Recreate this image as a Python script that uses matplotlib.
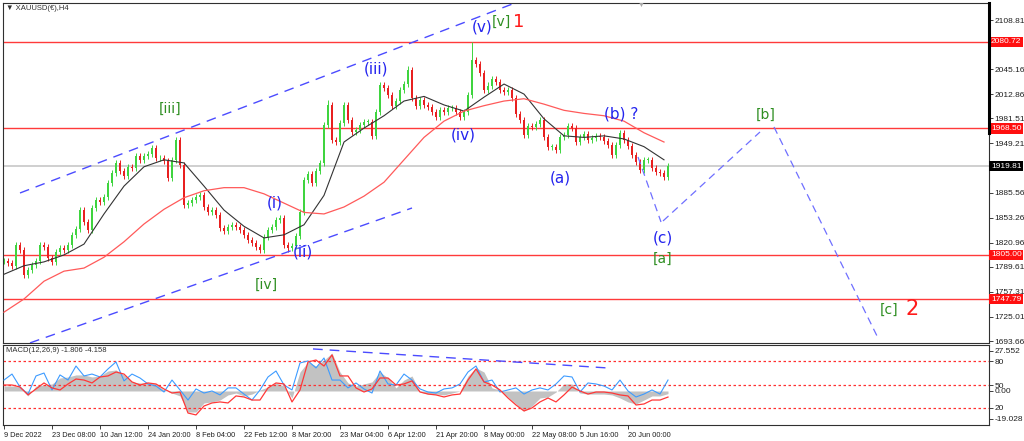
import numpy as np
import matplotlib
matplotlib.use("Agg")
import matplotlib.pyplot as plt
import matplotlib.transforms as mtransforms

plt.rcParams["font.family"] = ["Liberation Sans", "DejaVu Sans"]

# ---- price data (H4 bars) ----
closes = [1797, 1795, 1791, 1818, 1811, 1779, 1786, 1792, 1797, 1818,
          1815, 1801, 1796, 1809, 1814, 1811, 1818, 1831, 1839, 1863,
          1848, 1837, 1866, 1876, 1874, 1880, 1898, 1911, 1924, 1914,
          1907, 1919, 1917, 1933, 1928, 1933, 1935, 1943, 1930, 1930,
          1926, 1904, 1928, 1954, 1921, 1870, 1872, 1876, 1880, 1883,
          1867, 1861, 1863, 1857, 1840, 1836, 1841, 1844, 1841, 1837,
          1831, 1824, 1820, 1815, 1811, 1828, 1837, 1841, 1850, 1853,
          1818, 1814, 1817, 1829, 1861, 1902, 1910, 1898, 1914, 1924,
          1973, 1999, 1954, 1951, 1976, 1999, 1980, 1964, 1967, 1973,
          1977, 1977, 1959, 1990, 2025, 2021, 2012, 1998, 2004, 2018,
          2026, 2044, 2008, 1998, 2005, 1999, 1996, 1990, 1983, 1992,
          1990, 1995, 1995, 1990, 1983, 1990, 2012, 2057, 2052, 2040,
          2018, 2024, 2033, 2029, 2018, 2016, 2018, 2008, 1987, 1980,
          1960, 1972, 1970, 1974, 1980, 1958, 1945, 1945, 1941, 1958,
          1960, 1972, 1969, 1951, 1958, 1961, 1954, 1956, 1959, 1958,
          1952, 1947, 1934, 1947, 1963, 1954, 1946, 1934, 1925, 1915,
          1928, 1928, 1917, 1912, 1911, 1906, 1919.81]
spike_highs = {43: 1958, 81: 2006, 101: 2049, 117: 2081}
spike_lows = {5: 1775, 64: 1808, 71: 1809}

# moving averages, one value every 5 bars
ma_bars = list(range(0, 166, 5))
ma_fast = [1780, 1791, 1796, 1805, 1819, 1858, 1894, 1919, 1928, 1924,
           1894, 1863, 1842, 1827, 1831, 1844, 1882, 1951, 1969, 1985,
           2004, 2010, 1999, 1991, 2009, 2026, 2013, 1981, 1959, 1957,
           1959, 1955, 1945, 1928]
ma_slow = [1731, 1748, 1771, 1784, 1788, 1802, 1822, 1845, 1864, 1879,
           1888, 1892, 1892, 1884, 1872, 1860, 1858, 1867, 1881, 1899,
           1928, 1957, 1978, 1991, 1998, 2004, 2007, 2000, 1992, 1988,
           1985, 1978, 1963, 1951]

# horizontal levels
levels = [2080.72, 1968.50, 1805.00, 1747.79]
last_price = 1919.81
price_ticks = [2108.81, 2045.16, 2012.86, 1981.51, 1949.21, 1885.56,
               1853.26, 1820.96, 1789.61, 1757.31, 1725.01, 1693.66]

# MACD panel, one value every 2 bars
macd_bars = list(range(0, 167, 2))
macd_hist = [3.4, 3.4, 2.7, -3.4, 3.4, 4.1, 4.8, 8.9, 9.6, 11.0,
             11.0, 9.6, 10.3, 13.7, 14.4, 11.0, 6.2, 5.5, 5.5, 4.8,
             0.7, -1.4, -3.4, -14.4, -14.4, -8.2, -7.5, -6.2, -2.7, -1.4,
             -3.4, -2.1, 0.7, 2.7, 5.5, 3.4, -4.8, 13.0, 19.9, 17.1,
             21.2, 26.0, 13.0, 5.5, 3.4, 4.8, 6.2, 13.0, 8.9, 2.1,
             7.5, 10.3, -0.7, -2.1, -2.1, -2.7, -1.4, 0.0, 10.3, 15.8,
             13.0, 2.1, 0.7, -4.1, -8.9, -13.7, -10.3, -4.8, -4.1, -0.7,
             4.8, 4.8, -1.4, -2.1, -2.1, -2.1, -2.7, -4.8, -7.5, -8.9,
             -6.2, -3.4, -3.4, -1.806]
macd_signal = [4.1, 4.1, 2.7, -2.7, 1.4, 5.5, 2.1, 0.7, 4.8, 8.2,
               7.5, 5.5, 9.6, 10.3, 13.0, 11.6, 6.2, 4.1, 5.5, 4.8,
               1.4, -1.4, -0.7, -15.1, -16.4, -10.3, -8.2, -7.5, -8.2, -3.4,
               -4.1, -6.2, -6.2, 2.1, 5.5, 4.8, -7.5, 0.7, 19.9, 21.2,
               17.1, 24.7, 10.3, 10.3, 2.1, -0.7, 1.4, 8.9, 8.9, 4.1,
               4.8, 6.9, -0.7, -2.1, -2.7, -4.1, -2.7, -2.1, 7.5, 15.1,
               6.2, 4.1, 0.7, -4.8, -9.6, -13.7, -11.6, -7.5, -4.8, -7.5,
               -2.7, 2.7, 0.0, -2.1, -0.7, -0.7, -1.4, -2.7, -3.4, -9.6,
               -8.9, -6.2, -6.2, -4.158]
macd_fast = [7.5, 11.6, 2.7, -2.1, 10.3, 12.3, 0.7, 11.0, 7.5, 17.1,
             10.3, 11.6, 9.6, 15.1, 19.9, 6.9, 11.6, 8.9, 4.8, 3.4,
             -0.7, 7.5, 0.7, -6.2, 1.4, -1.4, 0.0, -2.7, 2.1, 2.1,
             -2.1, -6.2, 0.7, 9.6, 13.7, 4.1, 0.7, 19.2, 20.6, 15.8,
             22.6, 7.5, 7.5, 2.1, 5.5, 1.4, -1.4, 13.7, 4.8, 4.1,
             11.6, 7.5, 1.4, -0.7, -1.4, 1.4, 2.1, 4.8, 13.0, 17.1,
             6.2, 7.5, -0.7, 0.7, 2.1, -2.1, 0.7, 2.1, 0.7, 4.8,
             10.3, 9.6, -0.7, 5.5, 4.8, 3.4, 0.7, 7.5, 0.0, -4.1,
             -2.1, 0.7, -2.1, 7.5]
macd_levels = [20.5, 4.1, -11.6]
macd_ticks = [27.552, 20.5, 4.1, 0.0, -11.6, -19.028]
macd_tick_labels = ["27.552", "80", "50", "0.00", "20", "-19.028"]

date_bars = list(range(0, 157, 12))
date_labels = ["9 Dec 2022", "23 Dec 08:00", "10 Jan 12:00", "24 Jan 20:00",
               "8 Feb 04:00", "22 Feb 12:00", "8 Mar 20:00", "23 Mar 04:00",
               "6 Apr 12:00", "21 Apr 20:00", "8 May 00:00", "22 May 08:00",
               "5 Jun 16:00", "20 Jun 00:00"]

# trend channel and projected wave path (bar, price)
upper_channel = ([4, 127.75], [1885.1, 2130.8])
lower_channel = ([6.5, 102], [1691.2, 1865.7])
proj_down = ([158.5, 164.25], [1931.7, 1847.6])
proj_up = ([164.75, 189], [1848.9, 1964.0])
proj_final = ([192.5, 218.5], [1970.5, 1697.6])
macd_div = ([77.25, 150.75], [28.8, 15.8])

BLUE = "#2424ee"
GREEN = "#2f8f22"
RED = "#ff1a1a"
wave_labels = [
    ("(v)", 119.5, 2099.8, BLUE, 11), ("[v]", 124.25, 2106.2, GREEN, 10),
    ("1", 128.75, 2106.2, RED, 13), ("(iii)", 93, 2045.4, BLUE, 11),
    ("[iii]", 41.5, 1993.7, GREEN, 10), ("(iv)", 114.75, 1960.1, BLUE, 11),
    ("(i)", 67.75, 1872.2, BLUE, 11), ("(ii)", 74.75, 1808.8, BLUE, 11),
    ("[iv]", 65.5, 1766.2, GREEN, 10), ("(a)", 139, 1904.5, BLUE, 11),
    ("(b) ?", 154.25, 1987.3, BLUE, 11), ("(c)", 164.75, 1826.9, BLUE, 11),
    ("[a]", 164.75, 1799.8, GREEN, 10), ("[b]", 190.5, 1986.0, GREEN, 10),
    ("[c]", 221.25, 1733.8, GREEN, 10), ("2", 227, 1735.1, RED, 15),
]

# ---- figure ----
W, H = 1024, 441
fig = plt.figure(figsize=(W / 100, H / 100), dpi=100, facecolor="white")
ax = fig.add_axes([3 / W, 1 - 343 / H, 986 / W, 340 / H])
ax2 = fig.add_axes([3 / W, 1 - 425 / H, 986 / W, 80 / H])

xmin, xmax = -0.25, 246.25
for a in (ax, ax2):
    a.set_xlim(xmin, xmax)
    a.set_facecolor("white")
    for s in a.spines.values():
        s.set_color("#303030")
        s.set_linewidth(0.8)
    a.yaxis.tick_right()
    a.tick_params(axis="y", labelsize=6, length=3, pad=1.2,
                  colors="#202020", width=0.6)

ax.set_ylim(1691.1, 2130.8)

# levels and last price line
for lv in levels:
    ax.axhline(lv, color="#ff3a3a", lw=1.0, zorder=1)
ax.axhline(last_price, color="#cfcfcf", lw=1.4, zorder=0.5)

# candles
opens = [closes[0]] + closes[:-1]
for i, (o, c) in enumerate(zip(opens, closes)):
    col = "#3fd43f" if c >= o else "#e82020"
    hi = spike_highs.get(i, max(o, c) + 4)
    lo = spike_lows.get(i, min(o, c) - 4)
    ax.vlines(i, lo, hi, color=col, lw=0.7, zorder=2)
    ax.bar(i, max(abs(c - o), 0.8), bottom=min(o, c), width=0.55,
           color=col, zorder=2, linewidth=0)

ax.plot(ma_bars, ma_fast, color="#333333", lw=0.8, zorder=3)
ax.plot(ma_bars, ma_slow, color="#ff5a5a", lw=0.9, zorder=3)

# channel and projection
dash = (0, (7, 5))
ax.plot(*upper_channel, color="#4b4bff", lw=1.0, ls=dash, zorder=4)
ax.plot(*lower_channel, color="#4b4bff", lw=1.0, ls=dash, zorder=4)
for seg in (proj_down, proj_up, proj_final):
    ax.plot(*seg, color="#6f6fff", lw=0.9, ls=(0, (6, 4)), zorder=4)

for txt, bx, py, col, fs in wave_labels:
    ax.text(bx, py, txt, color=col, fontsize=fs, ha="center", va="center",
            family="DejaVu Sans", zorder=6)

# right price axis
ax.set_yticks(price_ticks)
ax.set_yticklabels([f"{v:.2f}" for v in price_ticks])
ax.set_xticks([])
trans = mtransforms.blended_transform_factory(ax.transAxes, ax.transData)
for lv in levels:
    ax.text(1.002, lv, f"{lv:.2f}", transform=trans, fontsize=6,
            color="white", va="center", ha="left", clip_on=False,
            bbox=dict(boxstyle="square,pad=0.2", fc="#ff1010", ec="none"))
ax.text(1.002, last_price, f"{last_price:.2f}", transform=trans,
        fontsize=6, color="white", va="center", ha="left", clip_on=False,
        bbox=dict(boxstyle="square,pad=0.2", fc="#000000", ec="none"))
ax.plot([1, 1], [1, 0.618], transform=ax.transAxes, color="black", lw=2.2,
        clip_on=False, zorder=7)

# MACD panel
ax2.set_ylim(-23.3, 31.5)
ax2.fill_between(macd_bars, macd_hist, 0, color="#c2c2c2", lw=0, zorder=1)
for lv in macd_levels:
    ax2.axhline(lv, color="#ff3030", lw=0.9, ls=(0, (2, 2)), zorder=2)
ax2.plot(macd_bars, macd_fast, color="#3d9bff", lw=0.8, zorder=3)
ax2.plot(macd_bars, macd_signal, color="#ff3838", lw=0.9, zorder=4)
ax2.plot(*macd_div, color="#4b4bff", lw=1.0, ls=dash, zorder=5)
ax2.set_yticks(macd_ticks)
ax2.set_yticklabels(macd_tick_labels)
ax2.set_xticks(date_bars)
ax2.set_xticklabels(date_labels)
ax2.tick_params(axis="x", labelsize=5.3, length=3, pad=2, colors="#202020",
                width=0.6)
for lab in ax2.get_xticklabels():
    lab.set_ha("left")

# titles
fig.text(6 / W, 1 - 9 / H, "\u25BC XAUUSD(\u20AC),H4", fontsize=5.5,
         color="#303030", va="center", ha="left")
fig.text(6 / W, 1 - 351 / H, "MACD(12,26,9) -1.806 -4.158", fontsize=5.5,
         color="#303030", va="center", ha="left")
fig.text(641 / W, 1 - 5 / H, "\u25BC", fontsize=5, color="#a8a8a8",
         va="center", ha="center")

fig.savefig("out.png", dpi=100, facecolor="white")
